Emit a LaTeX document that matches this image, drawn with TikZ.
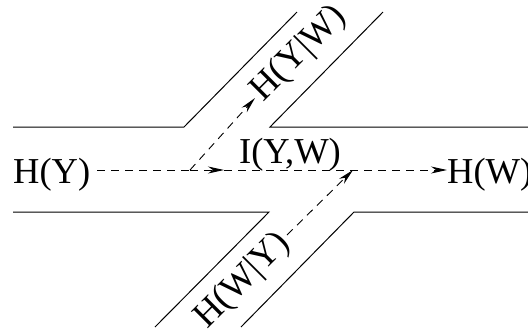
\documentclass[tikz,border=0pt]{standalone}
\usepackage{fontspec}
\setmainfont{Liberation Serif}
\usetikzlibrary{arrows.meta,positioning}

\begin{document}
\begin{tikzpicture}[
  x=1pt, y=-1pt,
  wall/.style={line width=1pt},
  flow/.style={line width=0.9pt, dash pattern=on 8pt off 6pt},
  arrow/.style={flow, -{Stealth[length=16pt, width=7pt, inset=5pt]}},
  lbl/.style={font=\fontsize{36.5}{44}\selectfont, inner sep=0pt}]
\useasboundingbox (0,0) rectangle (528,333);
% channel walls
\draw[wall] (13,127) -- (184,127) -- (297,12);
\draw[wall] (528,127) -- (270,127) -- (383,12);
\draw[wall] (13,212) -- (269,212) -- (155,327);
\draw[wall] (528,212) -- (354,212) -- (241,327);
% labels
\node[lbl, anchor=base west] (hy) at (13,183) {H(Y)};
\node[lbl, anchor=base west] (hw) at (447,183) {H(W)};
\node[lbl, anchor=base] (iyw) at (290,163) {I(Y,W)};
\node[lbl, rotate=45, anchor=west] (hyw) at (257,96) {H(Y|W)};
\node[lbl, rotate=45, anchor=east] (hwy) at (285,239) {H(W|Y)};
\coordinate (split) at (190,170);
\coordinate (mid) at (224,170);
\coordinate (merge) at (353,170);
% flows
\draw[flow] (97,170) -- (split);
\draw[arrow] (split) -- (mid);
\draw[arrow] (mid) -- (hw.west |- mid);
\draw[arrow] (split) -- (255,98);
\draw[arrow] (287,235) -- (merge);
\end{tikzpicture}
\end{document}
